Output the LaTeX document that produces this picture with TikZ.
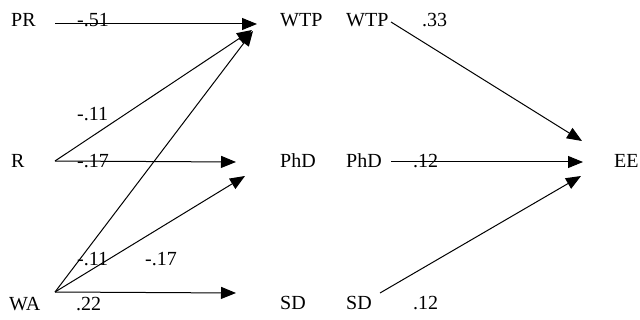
\documentclass[tikz,border=0pt]{standalone}
\usepackage{fontspec}
\setmainfont{Liberation Serif}
\usetikzlibrary{arrows.meta}
\begin{document}
\begin{tikzpicture}[x=1pt,y=-1pt,
  lbl/.style={anchor=base west,inner sep=0pt,font=\fontsize{20}{22}\selectfont},
  path/.style={line width=1pt,-{Triangle[length=15pt,width=12pt]}}]
\useasboundingbox (0,0) rectangle (640,320);

% variable names
\node[lbl] (pr)   at (11,27)  {PR};
\node[lbl] (r)    at (11,168) {R};
\node[lbl] (wa)   at (9,311)  {WA};
\node[lbl] (wtp)  at (280,27) {WTP};
\node[lbl] (phd)  at (280,168) {PhD};
\node[lbl] (sd)   at (280,310) {SD};
\node[lbl] (wtpb) at (346,27) {WTP};
\node[lbl] (phdb) at (346,168) {PhD};
\node[lbl] (sdb)  at (346,310) {SD};
\node[lbl] (ee)   at (614,168) {EE};

% path coefficients
\node[lbl] (c1) at (77,27)   {-.51};
\node[lbl] (c2) at (77,121)  {-.11};
\node[lbl] (c3) at (77,168)  {-.17};
\node[lbl] (c4) at (77,266)  {-.11};
\node[lbl] (c5) at (145,266) {-.17};
\node[lbl] (c6) at (76,311)  {.22};
\node[lbl] (c7) at (422,27)  {.33};
\node[lbl] (c8) at (413,168) {.12};
\node[lbl] (c9) at (413,310) {.12};

% line ends
\coordinate (prS)   at (55,24);
\coordinate (rS)    at (55,161);
\coordinate (waS)   at (55,292);
\coordinate (wtpT)  at (257,24);
\coordinate (wtpT2) at (252,30);
\coordinate (wtpT3) at (253,31);
\coordinate (phdT)  at (236,162);
\coordinate (phdT2) at (245,176);
\coordinate (sdT)   at (236,293);
\coordinate (wtpS)  at (391,22);
\coordinate (phdS)  at (391,162);
\coordinate (sdS)   at (380,293);
\coordinate (eeT1)  at (582,141);
\coordinate (eeT2)  at (583,162);
\coordinate (eeT3)  at (581,176);

% paths into the mediators
\draw[path] (prS) -- (wtpT);
\draw[path] (rS) -- (wtpT2);
\draw[path] (waS) -- (wtpT3);
\draw[path] (rS) -- (phdT);
\draw[path] (waS) -- (phdT2);
\draw[path] (waS) -- (sdT);

% paths into EE
\draw[path] (wtpS) -- (eeT1);
\draw[path] (phdS) -- (eeT2);
\draw[path] (sdS) -- (eeT3);
\end{tikzpicture}
\end{document}
